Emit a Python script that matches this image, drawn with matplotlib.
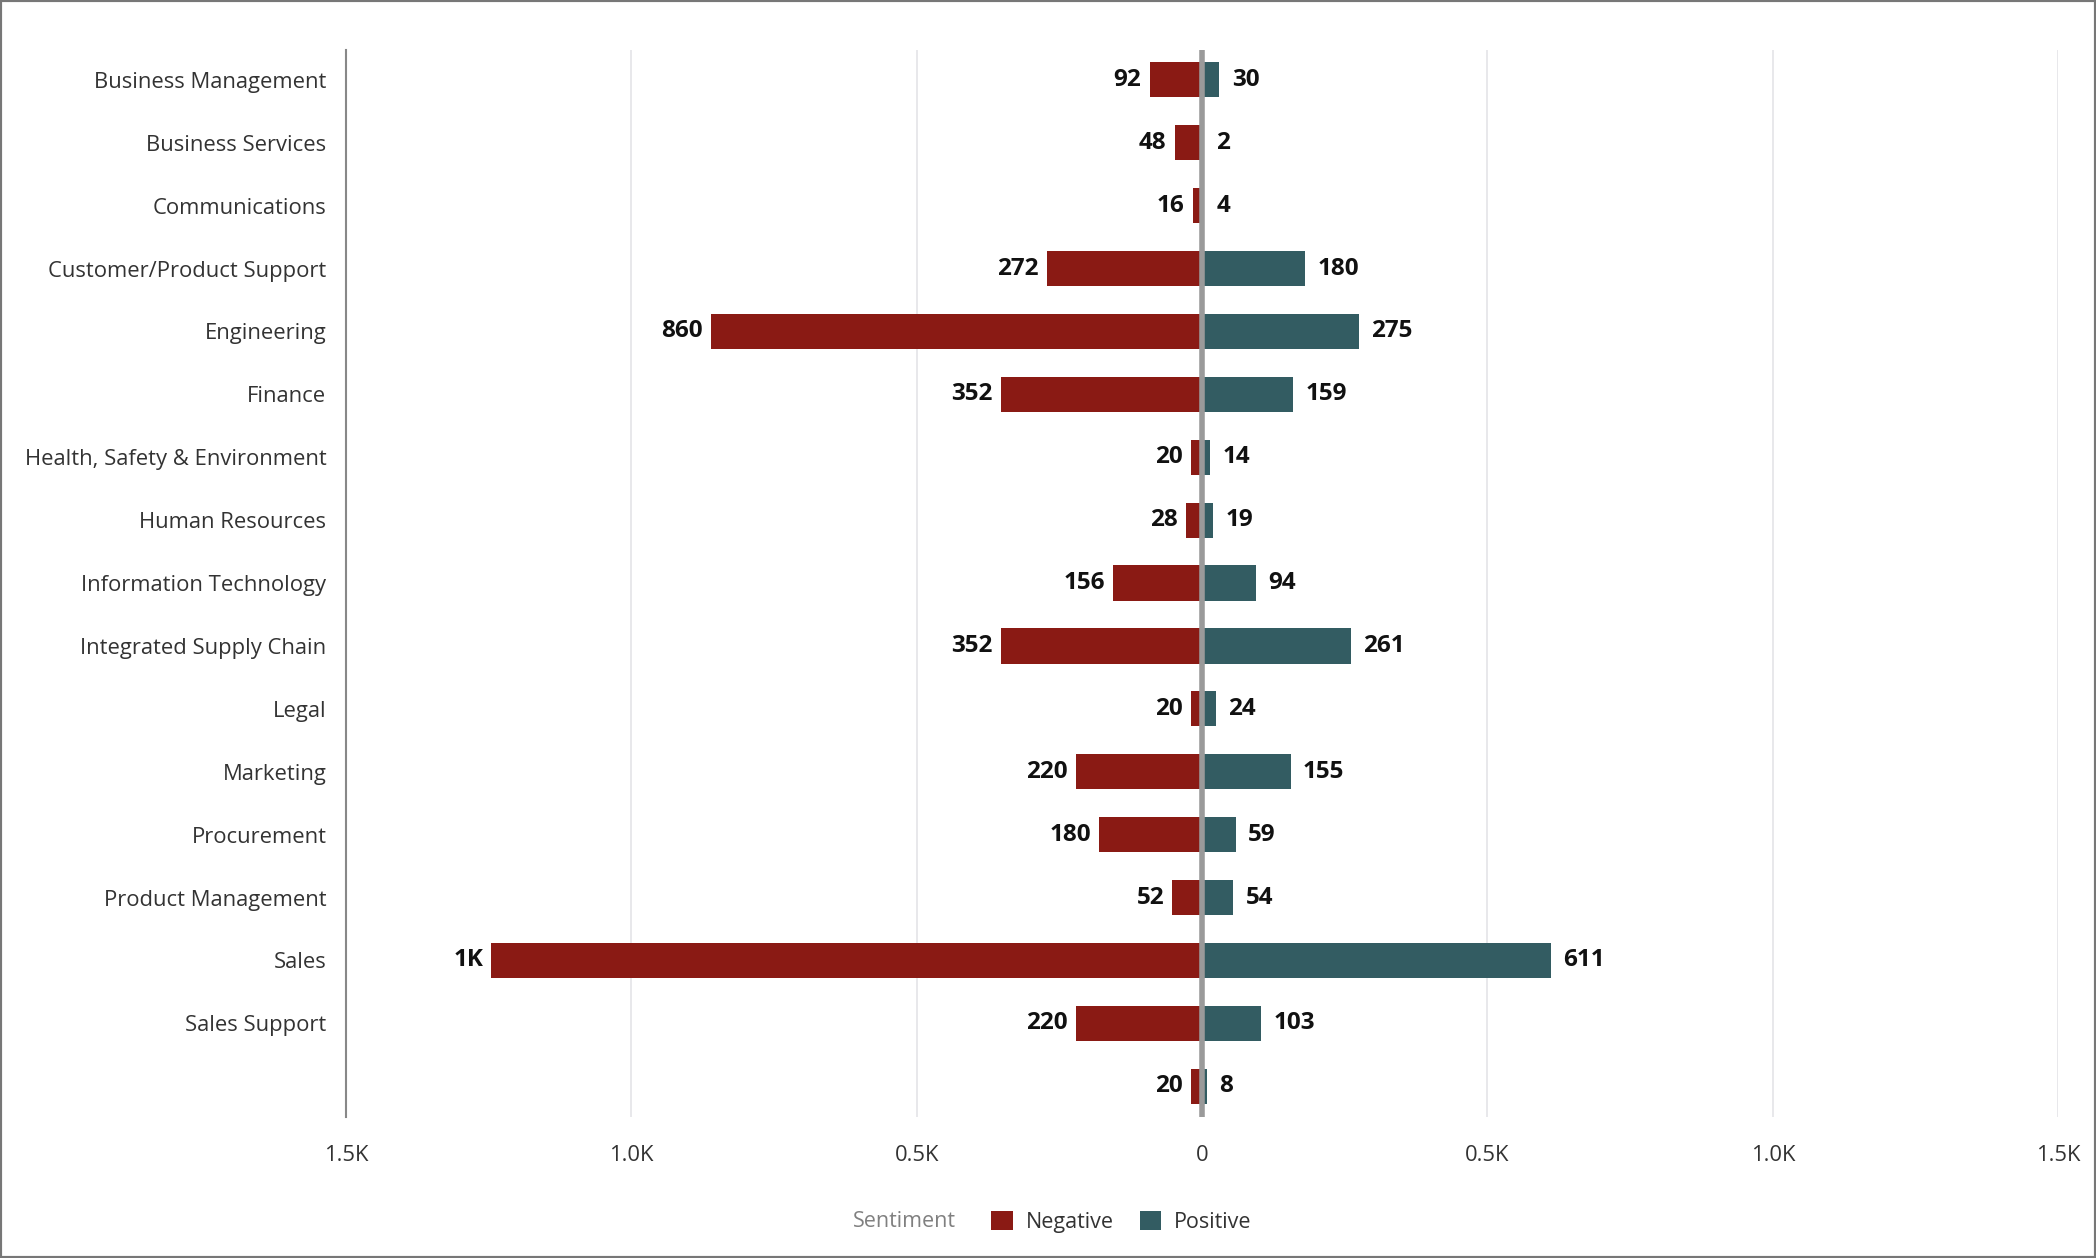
import matplotlib
matplotlib.use("Agg")
import matplotlib.pyplot as plt
from matplotlib.patches import Patch, Rectangle

plt.rcParams['font.family'] = ['Open Sans', 'DejaVu Sans']

categories = ["Business Management", "Business Services", "Communications",
              "Customer/Product Support", "Engineering", "Finance",
              "Health, Safety & Environment", "Human Resources",
              "Information Technology", "Integrated Supply Chain", "Legal",
              "Marketing", "Procurement", "Product Management", "Sales",
              "Sales Support", ""]
negative = [92, 48, 16, 272, 860, 352, 20, 28, 156, 352, 20, 220, 180, 52, 1245, 220, 20]
positive = [30, 2, 4, 180, 275, 159, 14, 19, 94, 261, 24, 155, 59, 54, 611, 103, 8]

neg_color = "#8a1a14"
pos_color = "#335c62"


def fmt(v):
    if v >= 1000:
        return "%dK" % round(v / 1000)
    return str(v)


fig = plt.figure(figsize=(20.96, 12.58), dpi=100)
ax = fig.add_axes([0.165, 0.112, 0.817, 0.848])

y = list(range(len(categories)))
ax.barh(y, [-v for v in negative], height=0.56, color=neg_color, zorder=2)
ax.barh(y, positive, height=0.56, color=pos_color, zorder=2)

for i in y:
    ax.annotate(fmt(negative[i]), (-negative[i], i), xytext=(-6, 0),
                textcoords="offset points", ha="right", va="center",
                fontsize=17.5, fontweight="bold", color="#111111")
    ax.annotate(fmt(positive[i]), (positive[i], i), xytext=(9, 0),
                textcoords="offset points", ha="left", va="center",
                fontsize=17.5, fontweight="bold", color="#111111")

ax.set_xlim(-1500, 1500)
ax.set_ylim(len(categories) - 1 + 0.49, -0.47)
ticks = [-1500, -1000, -500, 0, 500, 1000, 1500]
ax.set_xticks(ticks)
ax.set_xticklabels(["1.5K", "1.0K", "0.5K", "0", "0.5K", "1.0K", "1.5K"])
ax.set_yticks(y)
ax.set_yticklabels(categories)
ax.tick_params(axis="both", length=0, labelsize=15.8, colors="#333333")
ax.tick_params(axis="y", pad=14)
ax.tick_params(axis="x", pad=20)

for t in ticks:
    if t != 0:
        ax.axvline(t, color="#e4e4e8", lw=1.2, zorder=0)
ax.axvline(0, color="#9a9a9a", lw=4, zorder=3)

for s in ["top", "right", "bottom"]:
    ax.spines[s].set_visible(False)
ax.spines["left"].set_color("#888888")
ax.spines["left"].set_linewidth(1.5)

fig.text(0.456, 0.029, "Sentiment", ha="right", va="center",
         fontsize=15.5, color="#808080")
handles = [Patch(facecolor=neg_color, label="Negative"),
           Patch(facecolor=pos_color, label="Positive")]
fig.legend(handles=handles, loc="center", bbox_to_anchor=(0.535, 0.029),
           ncol=2, frameon=False, fontsize=15.5, handlelength=1.0,
           handleheight=1.0, handletextpad=0.6, columnspacing=1.2,
           labelcolor="#333333")

fig.patches.append(Rectangle((0, 0), 1, 1, transform=fig.transFigure,
                             fill=False, edgecolor="#777777", lw=3))

fig.savefig("out.png", dpi=100)
